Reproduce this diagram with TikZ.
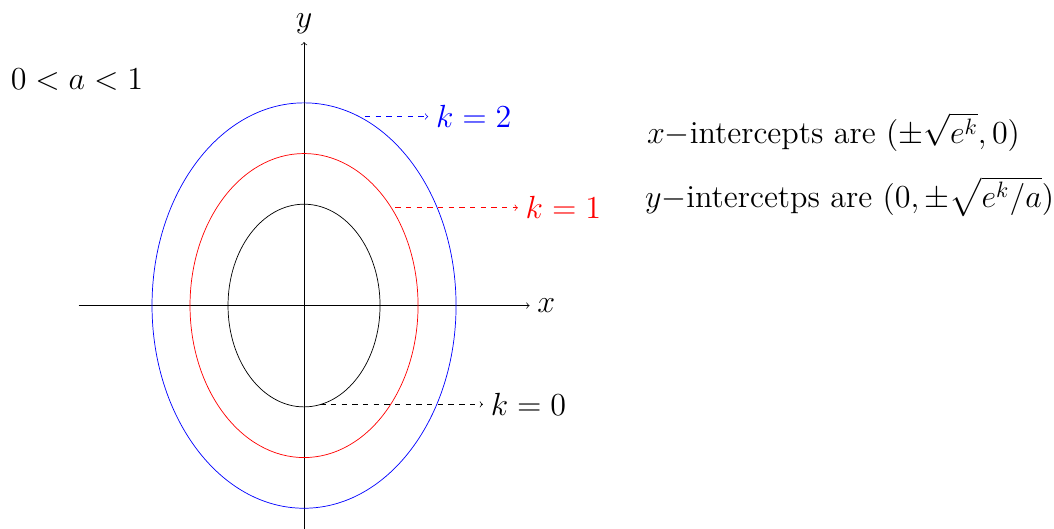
\documentclass[tikz,border=0pt]{standalone}
\usepackage{amsmath}
\usetikzlibrary{positioning}

\begin{document}
\begin{tikzpicture}[
    lbl/.style={font=\Large, scale=1.25, transform shape},
    guide/.style={->, dashed, #1}
]
\useasboundingbox (-6,-4.4) rectangle (14.8,6.03);

% axes
\coordinate (xs) at (-4.45,0);
\coordinate (xe) at (4.45,0);
\coordinate (ys) at (0,-4.4);
\coordinate (ye) at (0,5.2);
\draw[->] (xs) -- (xe) node[right, lbl] (xlab) {$x$};
\draw[->] (ys) -- (ye) node[above, lbl] (ylab) {$y$};

% level curves
\draw (0,0) ellipse (1.5 and 2);
\draw[red] (0,0) ellipse (2.25 and 3);
\draw[blue] (0,0) ellipse (3 and 4);

\node[lbl] (cond) at (-4.48,4.46) {$0<a<1$};

% labels for k
\coordinate (s2) at (1.2,3.73);
\coordinate (s1) at (1.8,1.93);
\coordinate (s0) at (0.32,-1.95);
\node[lbl, right, blue] (k2) at (2.45,3.73) {$k=2$};
\node[lbl, right, red] (k1) at (4.22,1.93) {$k=1$};
\node[lbl, right] (k0) at (3.53,-1.95) {$k=0$};
\draw[guide=blue] (s2) -- (k2.west);
\draw[guide=red] (s1) -- (k1.west);
\draw[guide=black] (s0) -- (k0.west);

\node[lbl, right, inner sep=0pt] (xint) at (6.76,3.42) {$x-$intercepts are $(\pm\sqrt{e^k},0)$};
\node[lbl, right, inner sep=0pt] (yint) at (6.72,2.15) {$y-$intercetps are $(0,\pm\sqrt{e^k/a})$};
\end{tikzpicture}
\end{document}
